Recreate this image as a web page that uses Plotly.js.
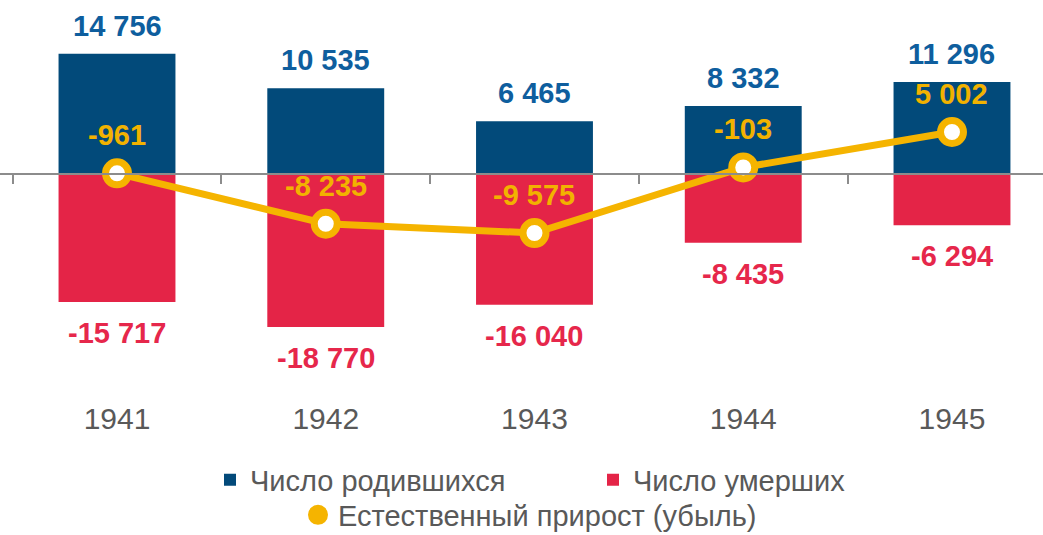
<!DOCTYPE html>
<html>
<head>
<meta charset="utf-8">
<script src="https://cdn.plot.ly/plotly-3.0.1.min.js"></script>
<style>html,body{margin:0;padding:0;background:#fff;}#chart{width:1043px;height:535px;}</style>
</head>
<body>
<div id="chart"></div>
<script>
const years = ['1941', '1942', '1943', '1944', '1945'];
const births = [14756, 10535, 6465, 8332, 11296];
const deaths = [-15717, -18770, -16040, -8435, -6294];
const growth = [-961, -8235, -9575, -103, 5002];
const seriesNames = ['Число родившихся', 'Число умерших', 'Естественный прирост (убыль)'];

const BLUE = '#024A7A', BLUE_TXT = '#0E5E9E', RED = '#E42447', RED_TXT = '#E6274B', YEL = '#F5B400', YEL_TXT = '#F2B200', GRAY = '#595959';
const FONT = 'Liberation Sans, Arial, sans-serif';

function fmt(v) {
  const s = String(Math.abs(v)).replace(/\B(?=(\d{3})+(?!\d))/g, ' ');
  return (v < 0 ? '-' : '') + s;
}

const yRange = [-27480, 21350];
const y2Range = [-33380, 24050];
const xRange = [-0.5605, 4.436];
const zeroFrac = (0 - yRange[0]) / (yRange[1] - yRange[0]);

const traces = [
  {type: 'bar', x: years, y: births, name: seriesNames[0], width: 0.56,
   marker: {color: BLUE, line: {width: 0}}, hoverinfo: 'x+y', legend: 'legend'},
  {type: 'bar', x: years, y: deaths, name: seriesNames[1], width: 0.56,
   marker: {color: RED, line: {width: 0}}, hoverinfo: 'x+y', legend: 'legend'},
  {type: 'scatter', x: years, y: growth, xaxis: 'x2', yaxis: 'y2', mode: 'lines+markers',
   name: seriesNames[2], showlegend: false, cliponaxis: false,
   line: {color: YEL, width: 7},
   marker: {size: 23, color: '#ffffff', line: {color: YEL, width: 7}}},
  {type: 'scatter', x: [years[0]], y: [null], mode: 'markers', name: seriesNames[2], legend: 'legend2',
   showlegend: true, hoverinfo: 'skip',
   marker: {size: 16, color: YEL, line: {color: YEL, width: 4}}}
];

const annFont = (c) => ({family: FONT, size: 29, color: c});
const B = (s) => '<b>' + s + '</b>';
const annotations = [];
years.forEach((yr, i) => {
  annotations.push({x: i, y: births[i], xref: 'x', yref: 'y', text: B(fmt(births[i])), showarrow: false,
    yanchor: 'middle', yshift: 28, font: annFont(BLUE_TXT)});
  annotations.push({x: i, y: deaths[i], xref: 'x', yref: 'y', text: B(fmt(deaths[i])), showarrow: false,
    yanchor: 'middle', yshift: -31, font: annFont(RED_TXT)});
  annotations.push({x: i, y: growth[i], xref: 'x2', yref: 'y2', text: B(fmt(growth[i])), showarrow: false,
    yanchor: 'middle', yshift: 38, font: annFont(YEL_TXT)});
});

const layout = {
  width: 1043, height: 535,
  margin: {l: 0, r: 0, t: 0, b: 137, autoexpand: false},
  paper_bgcolor: '#ffffff', plot_bgcolor: '#ffffff',
  barmode: 'overlay',
  font: {family: FONT, color: GRAY},
  xaxis: {type: 'category', range: xRange, showline: false, ticks: '', showgrid: false, zeroline: false,
    tickfont: {family: FONT, size: 30, color: GRAY}},
  xaxis2: {type: 'category', overlaying: 'x', anchor: 'free', position: zeroFrac, range: xRange,
    categoryarray: years, showline: true, linecolor: '#8c8c8c', linewidth: 2,
    ticks: 'outside', tickson: 'boundaries', ticklen: 9, tickwidth: 2, tickcolor: '#8c8c8c',
    showticklabels: false, showgrid: false, zeroline: false},
  yaxis: {range: yRange, visible: false, showgrid: false, zeroline: false},
  yaxis2: {range: y2Range, overlaying: 'y', visible: false, showgrid: false, zeroline: false},
  legend: {orientation: 'h', x: 210 / 1043, xanchor: 'left', y: -82 / 398, yanchor: 'middle',
    font: {family: FONT, size: 29, color: GRAY}, entrywidth: 338, bgcolor: 'rgba(0,0,0,0)', traceorder: 'normal'},
  legend2: {orientation: 'h', x: 298 / 1043, xanchor: 'left', y: -117 / 398, yanchor: 'middle',
    font: {family: FONT, size: 29, color: GRAY}, bgcolor: 'rgba(0,0,0,0)'},
  annotations: annotations,
  showlegend: true
};

Plotly.newPlot('chart', traces, layout, {displayModeBar: false, responsive: false});
</script>
</body>
</html>
